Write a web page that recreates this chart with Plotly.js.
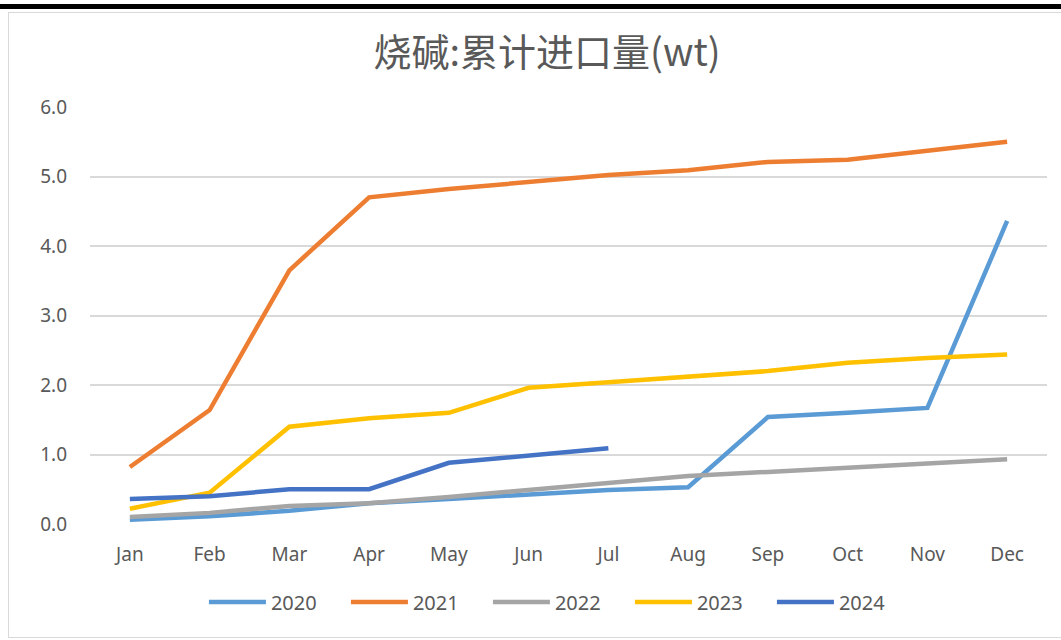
<!DOCTYPE html>
<html>
<head>
<meta charset="utf-8">
<script src="https://cdn.plot.ly/plotly-3.0.1.min.js"></script>
<style>
  body { margin: 0; background: #fff; }
  #topbar { position: absolute; left: 0; top: 4px; width: 1061px; height: 5px; background: #000; }
  #chart { position: absolute; left: 8px; top: 12px; width: 1053px; height: 624px;
           border-left: 1px solid #d9d9d9; border-top: 1px solid #d9d9d9; border-bottom: 1px solid #d9d9d9; }
</style>
</head>
<body>
<div id="topbar"></div>
<div id="chart"></div>
<script>
var months = ["Jan", "Feb", "Mar", "Apr", "May", "Jun", "Jul", "Aug", "Sep", "Oct", "Nov", "Dec"];

var y2020 = [0.06, 0.11, 0.19, 0.30, 0.36, 0.43, 0.49, 0.53, 1.54, 1.60, 1.67, 4.36];
var y2021 = [0.82, 1.64, 3.65, 4.70, 4.82, 4.92, 5.02, 5.09, 5.21, 5.24, 5.37, 5.50];
var y2022 = [0.10, 0.16, 0.26, 0.30, 0.39, 0.49, 0.58, 0.69, 0.75, 0.81, 0.86, 0.93];
var y2023 = [0.22, 0.45, 1.40, 1.52, 1.60, 1.96, 2.04, 2.12, 2.20, 2.32, 2.39, 2.44];
var y2024 = [0.36, 0.40, 0.50, 0.50, 0.88, 0.98, 1.09];

var names = ["2020", "2021", "2022", "2023", "2024"];
var series = [y2020, y2021, y2022, y2023, y2024];
var colors = ["#5B9BD5", "#ED7D31", "#A5A5A5", "#FFC000", "#4472C4"];

var data = series.map(function (ys, i) {
    return {
        x: months.slice(0, ys.length),
        y: ys,
        name: names[i],
        type: "scatter",
        mode: "lines",
        line: { color: colors[i], width: 4.5 }
    };
});

var layout = {
    width: 1053,
    height: 624,
    margin: { l: 81, r: 15, t: 94, b: 113 },
    paper_bgcolor: "rgba(0,0,0,0)",
    plot_bgcolor: "rgba(0,0,0,0)",
    font: { family: "Noto Sans, sans-serif", color: "#595959", size: 19 },
    title: {
        text: "烧碱:累计进口量(wt)",
        font: { family: "Noto Sans CJK SC", size: 38, color: "#595959" },
        x: 0.511, xref: "container", xanchor: "center",
        y: 0.936, yref: "container", yanchor: "middle"
    },
    xaxis: {
        type: "category",
        range: [-0.5, 11.5],
        showgrid: false,
        showline: false,
        zeroline: false,
        ticks: "",
        ticklabelstandoff: 17,
        tickfont: { size: 19, color: "#595959" }
    },
    yaxis: {
        range: [0, 6],
        dtick: 1,
        tickformat: ".1f",
        gridcolor: "#d9d9d9",
        gridwidth: 1.5,
        zeroline: false,
        showline: false,
        ticks: "",
        ticklabelstandoff: 22,
        tickfont: { size: 19, color: "#595959" }
    },
    legend: {
        orientation: "h",
        x: 0.49, xanchor: "center",
        yref: "container",
        y: 0.056, yanchor: "middle",
        font: { size: 20, color: "#595959" },
        itemwidth: 57,
        entrywidth: 70,
        entrywidthmode: "pixels"
    },
    showlegend: true
};

Plotly.newPlot("chart", data, layout, { displayModeBar: false });
</script>
</body>
</html>
